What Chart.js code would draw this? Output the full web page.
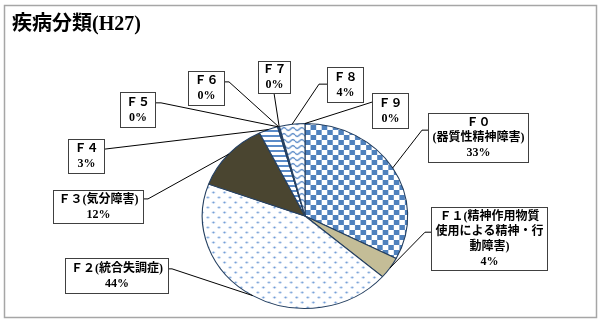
<!DOCTYPE html>
<html>
<head>
<meta charset="utf-8">
<script src="https://cdn.jsdelivr.net/npm/chart.js@4.4.1/dist/chart.umd.min.js"></script>
<style>
  body { margin: 0; background: #fff; }
  canvas { display: block; }
</style>
</head>
<body>
<canvas id="chart-disease" width="599" height="320"></canvas>
<script>
// dados
var chartTitle = '疾病分類(H27)';
var categories = ['Ｆ０', 'Ｆ１', 'Ｆ２', 'Ｆ３', 'Ｆ４', 'Ｆ５', 'Ｆ６', 'Ｆ７', 'Ｆ８', 'Ｆ９'];
var subtitles = ['(器質性精神障害)', '(精神作用物質使用による精神・行動障害)', '(統合失調症)', '(気分障害)', '', '', '', '', '', ''];
var shares = [32.6, 3.8, 44.2, 12.1, 3.0, 0.1, 0.1, 0.1, 4.0, 0];

// posição das caixas de rótulo
var boxes = [
    { x: 428, y: 113, w: 100, h: 49, side: 'left', stub: 6, ay: 0.35, nameBreak: true },
    { x: 431, y: 207, w: 116, h: 63, side: 'left', stub: 6, ay: 0.4, maxW: 110 },
    { x: 65, y: 258, w: 103, h: 35, side: 'right', stub: 4, ay: 0.31 },
    { x: 53, y: 190, w: 90, h: 33, side: 'right', stub: 5, ay: 0.27 },
    { x: 68, y: 139, w: 36, h: 34, side: 'right', stub: 0, ay: 0.3 },
    { x: 120, y: 92, w: 35, h: 35, side: 'right', stub: 6, ay: 0.31 },
    { x: 188, y: 71, w: 36, h: 34, side: 'right', stub: 5, ay: 0.32 },
    { x: 258, y: 61, w: 32, h: 32, side: 'bottom', stub: 0, ay: 1 },
    { x: 327, y: 67, w: 36, h: 35, side: 'left', stub: 8, ay: 0.49 },
    { x: 372, y: 93, w: 36, h: 35, side: 'left', stub: 0, ay: 0.26 }
];

var stretchX = 1.11;
var canvas = document.getElementById('chart-disease');
var ctx0 = canvas.getContext('2d');

function pattern(w, h, draw) {
    var c = document.createElement('canvas');
    c.width = w; c.height = h;
    var g = c.getContext('2d');
    g.fillStyle = '#fff';
    g.fillRect(0, 0, w, h);
    draw(g);
    return ctx0.createPattern(c, 'repeat');
}

var checker = pattern(10, 10, function(g) {
    g.fillStyle = '#4F81BD';
    g.fillRect(5, 0, 5, 5);
    g.fillRect(0, 5, 5, 5);
});
var dots = pattern(10, 10, function(g) {
    g.fillStyle = '#6F9BD6';
    g.beginPath(); g.arc(2.5, 2.5, 1.1, 0, Math.PI * 2); g.fill();
    g.beginPath(); g.arc(7.5, 7.5, 1.1, 0, Math.PI * 2); g.fill();
});
var stripes = pattern(5, 5, function(g) {
    g.fillStyle = '#5B8BC8';
    g.fillRect(0, 0, 5, 2);
});
var waves = pattern(8, 6, function(g) {
    g.strokeStyle = '#5B8BC8';
    g.lineWidth = 1.3;
    g.beginPath();
    for (var i = 0; i <= 8; i++) {
        var y = 3 + 1.5 * Math.sin(i / 8 * Math.PI * 2);
        if (i === 0) g.moveTo(i, y); else g.lineTo(i, y);
    }
    g.stroke();
});

var fills = [checker, '#C4BD97', dots, '#4A4530', stripes, '#8DB3E2', '#4F81BD', '#C6D9F1', waves, '#1F497D'];

var LABEL_FONT = 'bold 12px "Liberation Serif", "Noto Sans CJK JP"';

function wrapLine(ctx, text, maxW) {
    var out = [], cur = '';
    for (var i = 0; i < text.length; i++) {
        var t = cur + text[i];
        if (cur && ctx.measureText(t).width > maxW) { out.push(cur); cur = text[i]; }
        else cur = t;
    }
    if (cur) out.push(cur);
    return out;
}

var ellipsePlugin = {
    id: 'ellipse',
    beforeDatasetsDraw: function(chart) {
        var a = chart.getDatasetMeta(0).data[0];
        var ctx = chart.ctx;
        ctx.save();
        ctx.translate(a.x, a.y);
        ctx.scale(stretchX, 1);
        ctx.translate(-a.x, -a.y);
    },
    afterDatasetsDraw: function(chart) {
        chart.ctx.restore();
    }
};

var framePlugin = {
    id: 'frame',
    beforeDraw: function(chart) {
        var ctx = chart.ctx;
        ctx.save();
        ctx.fillStyle = '#fff';
        ctx.fillRect(0, 0, chart.width, chart.height);
        ctx.strokeStyle = '#A6A6A6';
        ctx.lineWidth = 1.5;
        ctx.strokeRect(4.5, 5.5, 592, 312);
        ctx.fillStyle = '#000';
        ctx.font = 'bold 20px "Liberation Serif", "Noto Sans CJK JP"';
        ctx.textBaseline = 'middle';
        ctx.fillText(chartTitle, 12, 25);
        ctx.restore();
    }
};

var labelPlugin = {
    id: 'boxLabels',
    afterDraw: function(chart) {
        var ctx = chart.ctx;
        var arcs = chart.getDatasetMeta(0).data;
        ctx.save();
        ctx.font = LABEL_FONT;
        arcs.forEach(function(arc, i) {
            var b = boxes[i];
            var mid = (arc.startAngle + arc.endAngle) / 2;
            var tx = arc.x + stretchX * arc.outerRadius * Math.cos(mid);
            var ty = arc.y + arc.outerRadius * Math.sin(mid);

            // linha guia
            var ax, ay;
            if (b.side === 'left') { ax = b.x; ay = b.y + b.h * b.ay; }
            else if (b.side === 'right') { ax = b.x + b.w; ay = b.y + b.h * b.ay; }
            else { ax = b.x + b.w / 2; ay = b.y + b.h; }
            ctx.strokeStyle = '#000';
            ctx.lineWidth = 1;
            ctx.beginPath();
            ctx.moveTo(ax, ay);
            if (b.stub) {
                ax += b.side === 'left' ? -b.stub : b.stub;
                ctx.lineTo(ax, ay);
            }
            ctx.lineTo(tx, ty);
            ctx.stroke();

            // caixa
            ctx.fillStyle = '#fff';
            ctx.fillRect(b.x, b.y, b.w, b.h);
            ctx.strokeStyle = '#404040';
            ctx.strokeRect(b.x + 0.5, b.y + 0.5, b.w, b.h);

            var raw = categories[i] + (subtitles[i] ? (b.nameBreak ? '\n' : '') + subtitles[i] : '') +
                '\n' + Math.round(shares[i]) + '%';
            var lines = [];
            raw.split('\n').forEach(function(t) {
                lines = lines.concat(wrapLine(ctx, t, b.maxW || (b.w - 4)));
            });
            var lh = 15;
            var top = b.y + b.h / 2 - (lines.length * lh) / 2 + lh / 2 + 0.5;
            ctx.fillStyle = '#000';
            ctx.textAlign = 'center';
            ctx.textBaseline = 'middle';
            lines.forEach(function(t, k) {
                ctx.fillText(t, b.x + b.w / 2 + 0.5, top + k * lh);
            });
        });
        ctx.restore();
    }
};

new Chart(canvas, {
    type: 'pie',
    data: {
        labels: categories,
        datasets: [{
            data: shares,
            backgroundColor: fills,
            borderColor: '#243F60',
            borderWidth: 1
        }]
    },
    options: {
        responsive: false,
        animation: false,
        layout: { padding: { left: 212, right: 201, top: 123, bottom: 11 } },
        plugins: {
            legend: { display: false },
            tooltip: { enabled: false }
        }
    },
    plugins: [framePlugin, ellipsePlugin, labelPlugin]
});
</script>
</body>
</html>
